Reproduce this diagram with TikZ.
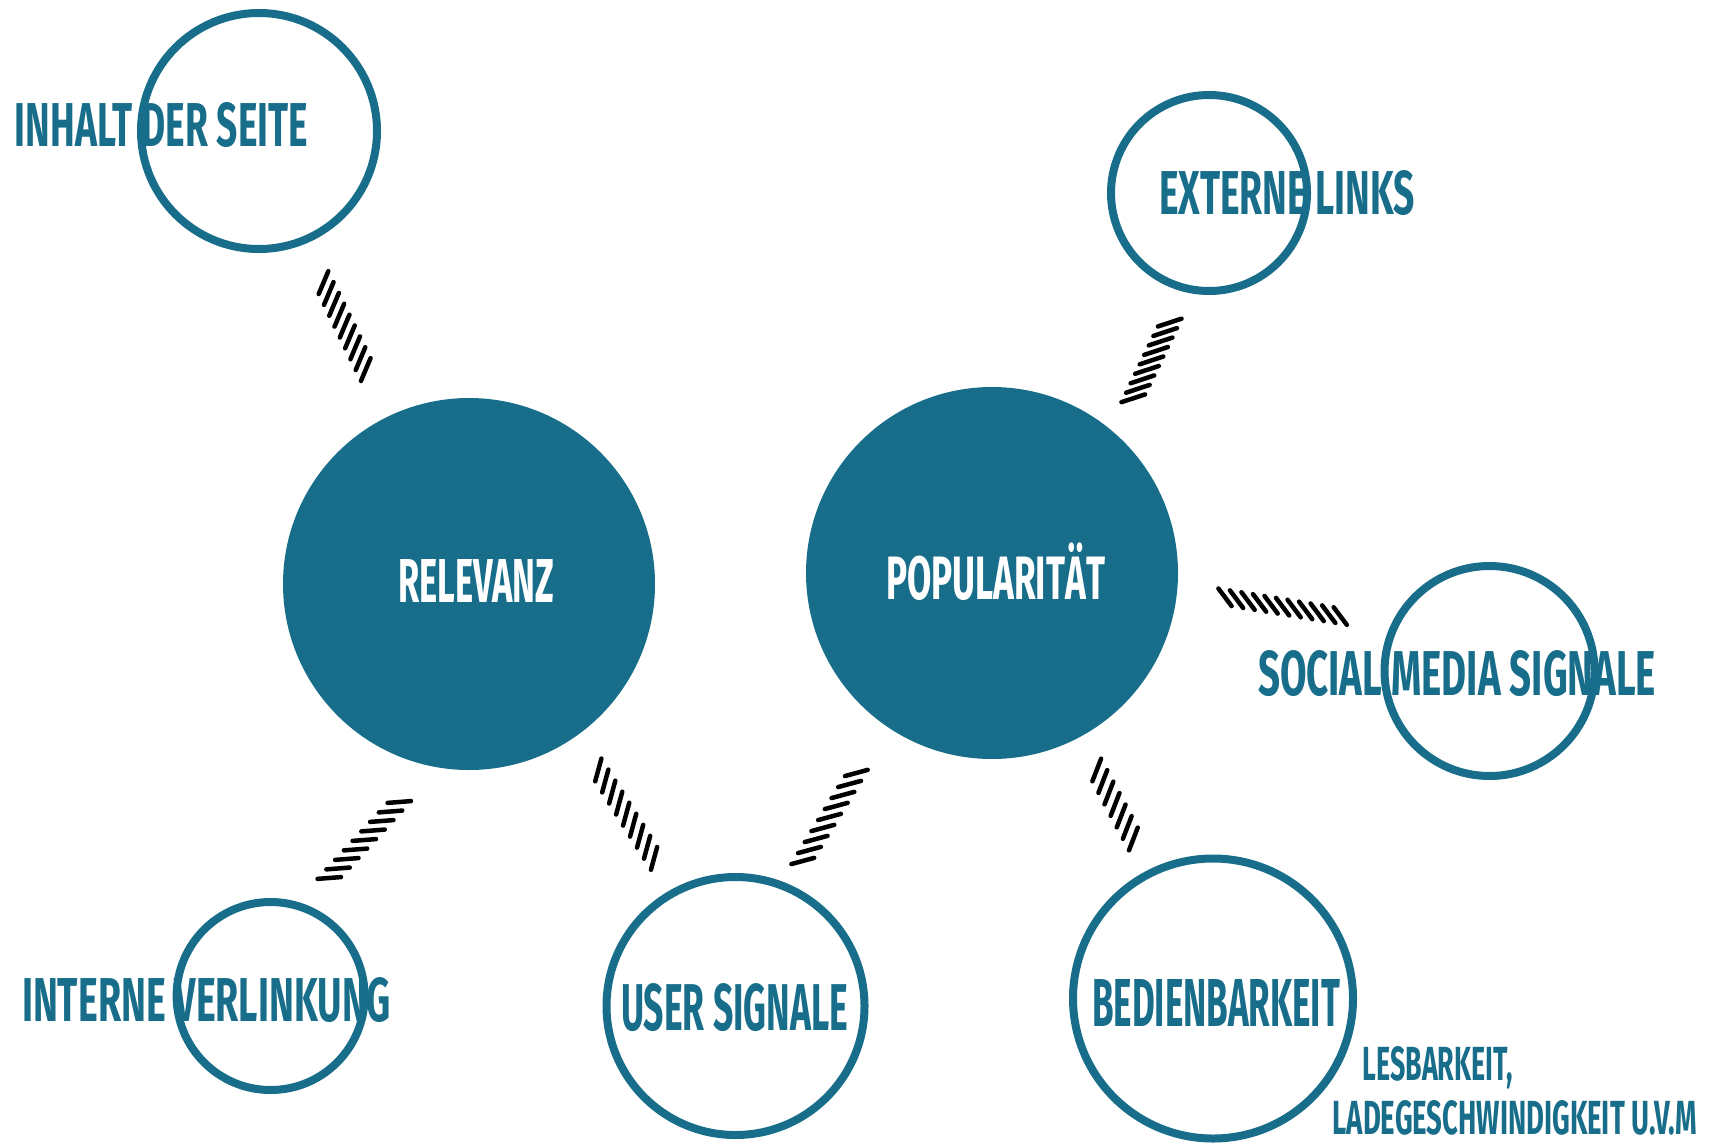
\documentclass[tikz,border=0pt]{standalone}
\usepackage{fontspec}
\setmainfont{Fira Sans}
\usepackage{graphicx}
\usetikzlibrary{positioning, calc}

\definecolor{seoteal}{RGB}{24,110,138}
\newcommand{\fitlabel}[3]{\resizebox{#1}{#2}{\bfseries #3}}

\begin{document}
\begin{tikzpicture}[
	% one unit = one pixel of the reference, y runs downwards
	x=0.1mm, y=-0.1mm,
	ring/.style={
		circle,
		draw=seoteal,
		line width=0.8mm,
		inner sep=0pt
	},
	core/.style={circle, fill=seoteal, inner sep=0pt, minimum size=37.2mm},
	lbl/.style={inner sep=0pt, text=seoteal},
	corelbl/.style={inner sep=0pt, text=white},
	hatch/.style={black, line width=0.45mm, line cap=round}
	]
	\useasboundingbox (0,0) rectangle (1711,1145);
	
	% --- 1. Core factors ---
	\node[core] (relevanz) at (469,584) {};
	\node[core] (popular) at (992,573) {};
	
	\node[corelbl] (relevanztxt) at ($(relevanz)+(7,-3.5)$) {\fitlabel{15.6mm}{4.3mm}{RELEVANZ}};
	\node[corelbl] (populartxt) at ($(popular)+(3.5,5)$) {\fitlabel{21.9mm}{4.35mm}{POPULARIT\smash{Ä}T}};
	
	% --- 2. Sub factors (rings) ---
	\node[ring, minimum size=23.6mm] (inhalt) at (259,131) {};
	\node[ring, minimum size=19.6mm] (externe) at (1209,193) {};
	\node[ring, minimum size=21mm] (social) at (1489.5,671) {};
	\node[ring, minimum size=18.8mm] (intern) at (270.6,996) {};
	\node[ring, minimum size=25.8mm] (user) at (735.5,1006) {};
	\node[ring, minimum size=28mm] (bedien) at (1213,998.5) {};
	
	% labels sit across the rings
	\node[lbl] (inhalttxt) at ($(inhalt)+(-97.5,-6)$) {\fitlabel{29.3mm}{4.4mm}{INHALT DER SEITE}};
	\node[lbl] (externetxt) at ($(externe)+(78,0)$) {\fitlabel{25.6mm}{4.4mm}{EXTERNE LINKS}};
	\node[lbl] (socialtxt) at ($(social)+(-32.5,2.5)$) {\fitlabel{39.8mm}{4.5mm}{SOCIAL MEDIA SIGNALE}};
	\node[lbl] (interntxt) at ($(intern)+(-64,4)$) {\fitlabel{36.9mm}{4.4mm}{INTERNE VERLINKUNG}};
	\node[lbl] (usertxt) at ($(user)+(-1,1.5)$) {\fitlabel{22.7mm}{4.7mm}{USER SIGNALE}};
	\node[lbl] (bedientxt) at ($(bedien)+(3,4)$) {\fitlabel{24.8mm}{4.7mm}{BEDIENBARKEIT}};
	
	% small note under Bedienbarkeit
	\node[lbl, anchor=base west] (lesbar) at (1362,1080) {\fitlabel{15mm}{3.4mm}{LESBARKEIT,}};
	\node[lbl, anchor=base west] (ladegesch) at (1332,1134) {\fitlabel{36.4mm}{3.4mm}{LADEGESCHWINDIGKEIT U.V.M}};
	
	% --- 3. Hatched links between the circles ---
	% from/to/start/turn/end/turn/intervals/half stroke
	\foreach \src/\dst/\ta/\aa/\tb/\ab/\n/\sx/\sy in {
		inhalt/relevanz/0.330/-1.83/0.5234/-0.76/8/4.8/-11.4,
		relevanz/intern/0.5005/7.98/0.7118/0.29/8/11.7/-0.9,
		relevanz/user/0.4538/2.54/0.663/1.73/8/3.1/-11.4,
		popular/user/0.4802/-3.52/0.6847/-2.67/8/11.4/-3.1,
		popular/bedien/0.4653/0.55/0.6282/0.54/6/4.4/-11.4,
		popular/social/0.462/5.19/0.692/4.10/10/6.6/8.8,
		popular/externe/0.5135/-9.23/0.7018/-5.63/8/11.8/-3.9}{
		\coordinate (hs) at ($(\src)!\ta!\aa:(\dst)$);
		\coordinate (he) at ($(\src)!\tb!\ab:(\dst)$);
		\foreach \i in {0,...,\n}{
			\coordinate (hp) at ($(hs)!\i/\n!(he)$);
			\draw[hatch] ($(hp)-(\sx,\sy)$) -- ($(hp)+(\sx,\sy)$);
		}
	}
	
\end{tikzpicture}
\end{document}
